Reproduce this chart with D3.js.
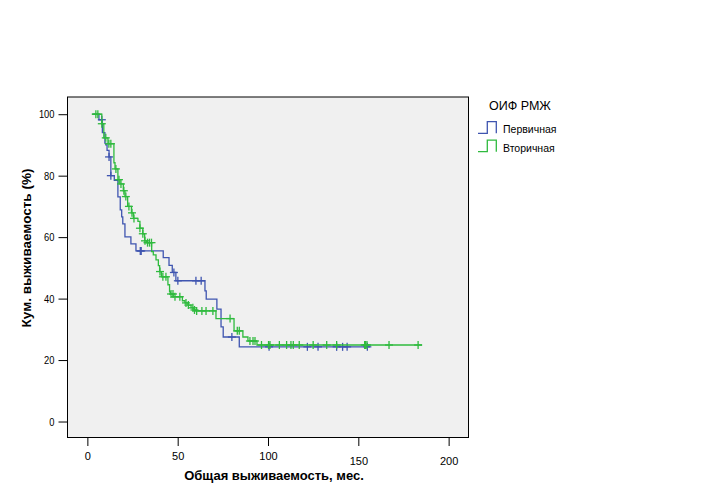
<!DOCTYPE html>
<html><head><meta charset="utf-8">
<script src="https://cdn.jsdelivr.net/npm/d3@7"></script>
<style>
html,body{margin:0;padding:0;background:#fff;}
text{font-family:Arial,"Liberation Sans",sans-serif;fill:#000;}
</style></head>
<body>
<svg id="chart" width="703" height="504"></svg>
<script>
// ---- data ----
const xTicks = [0, 50, 100, 150, 200];
const yTicks = [0, 20, 40, 60, 80, 100];
const groups = ["Первичная", "Вторичная"];
const legendTitle = "ОИФ РМЖ";
const xTitle = "Общая выживаемость, мес.";
const yTitle = "Кум. выживаемость (%)";

// Первичная: step start times and survival levels (last = end of follow-up)
const primTime = [3.0, 6.4, 8.3, 9.7, 10.2, 10.9, 12.0, 13.0, 14.9, 16.9, 18.2, 19.0, 19.6, 20.8, 24.1, 26.9, 42.0, 45.2, 47.0, 49.0, 65.1, 65.8, 71.7, 74.0, 75.2, 84.1, 156.5];
const primSurv = [100, 98.2, 94.0, 90.6, 90.0, 88.2, 86.1, 80.0, 78.5, 73.1, 68.9, 66.6, 64.3, 60.1, 57.8, 55.5, 53.3, 50.8, 48.5, 45.8, 42.5, 39.8, 36.6, 30.8, 27.5, 24.3, 24.3];
const primCens = [8.0, 12.0, 13.0, 29.3, 29.8, 47.9, 50.1, 60.1, 63.0, 80.0, 100.6, 121.8, 127.7, 138.0, 141.3, 143.8, 155.0];

// Вторичная
const secTime = [2.5, 8.0, 9.1, 11.4, 14.7, 15.3, 16.9, 18.0, 19.9, 20.8, 22.3, 24.4, 25.5, 28.0, 29.1, 30.7, 31.7, 32.8, 35.6, 36.5, 38.0, 39.3, 40.0, 41.0, 44.6, 45.5, 46.0, 47.5, 52.6, 54.0, 55.7, 57.4, 59.0, 60.0, 71.2, 81.2, 86.1, 88.9, 93.9, 185.3];
const secSurv = [100, 96.9, 92.3, 90.4, 84.2, 82.2, 78.7, 77.3, 75.1, 73.2, 70.0, 67.9, 66.1, 65.1, 62.9, 61.1, 58.8, 58.2, 55.3, 54.2, 52.6, 50.7, 48.8, 47.1, 44.5, 42.2, 41.5, 40.6, 39.3, 38.6, 37.9, 37.0, 36.3, 36.0, 33.5, 29.5, 27.5, 26.2, 24.9, 24.9];
const secCens = [4.7, 5.8, 8.0, 10.2, 11.9, 13.0, 15.8, 17.5, 18.6, 20.2, 21.3, 23.0, 24.7, 25.8, 29.1, 30.7, 31.9, 33.3, 34.4, 35.5, 40.2, 41.8, 43.5, 46.3, 47.4, 48.5, 51.2, 54.6, 55.9, 58.4, 59.3, 60.5, 63.4, 65.7, 69.5, 79.0, 83.0, 84.1, 90.0, 91.7, 92.8, 96.4, 100.3, 101.1, 106.3, 110.3, 112.7, 114.0, 117.3, 125.0, 132.5, 138.0, 153.5, 154.0, 154.8, 167.0, 183.1];

const colors = ["#3f55b0", "#2fba3e"];

// ---- layout ----
const svg = d3.select("#chart");
const L = 67.5, R = 468.5, T = 97, B = 437.5;
const x = d3.scaleLinear().domain([-11, 211]).range([L, R]);
const y = d3.scaleLinear().domain([-5.2, 105.6]).range([B, T]);

svg.append("rect").attr("x", L).attr("y", T).attr("width", R - L).attr("height", B - T)
  .attr("fill", "#f0f0f0").attr("stroke", "#000").attr("stroke-width", 1);

// axes
const yAxis = svg.append("g").attr("transform", `translate(${L},0)`)
  .call(d3.axisLeft(y).tickValues(yTicks).tickSize(9).tickPadding(4).tickFormat(d3.format("d")));
yAxis.select(".domain").remove();
yAxis.selectAll("line").attr("stroke", "#000");
yAxis.selectAll("text").attr("font-size", 11).attr("font-family", "Arial, Liberation Sans")
  .each(function(){ const t = d3.select(this); const s = t.text(); t.attr("textLength", s.length * 5.2).attr("lengthAdjust", "spacingAndGlyphs"); });

const xAxis = svg.append("g").attr("transform", `translate(0,${B})`)
  .call(d3.axisBottom(x).tickValues(xTicks).tickSize(8.5).tickPadding(6).tickFormat(d3.format("d")));
xAxis.select(".domain").remove();
xAxis.selectAll("line").attr("stroke", "#000");
xAxis.selectAll("text").attr("font-size", 11).attr("font-family", "Arial, Liberation Sans")
  .attr("dy", d => d >= 150 ? "1.15em" : "0.71em");

// axis titles
svg.append("text").attr("x", 274).attr("y", 480).attr("text-anchor", "middle")
  .attr("font-size", 13).attr("font-weight", "bold").text(xTitle);
svg.append("text").attr("transform", "translate(31,248) rotate(-90)").attr("text-anchor", "middle")
  .attr("font-size", 13.5).attr("font-weight", "bold").text(yTitle);

// curves
function stepFn(times, surv) {
  return t => { let v = surv[0]; for (let i = 0; i < times.length; i++) { if (times[i] <= t) v = surv[i]; } return v; };
}
const line = d3.line().x(d => x(d[0])).y(d => y(d[1])).curve(d3.curveStepAfter);
const series = [
  {time: primTime, surv: primSurv, cens: primCens, color: colors[0]},
  {time: secTime, surv: secSurv, cens: secCens, color: colors[1]}
];
series.forEach(s => {
  const pts = s.time.map((t, i) => [t, s.surv[i]]);
  svg.append("path").attr("d", line(pts)).attr("fill", "none")
    .attr("stroke", s.color).attr("stroke-width", 1.3);
  const f = stepFn(s.time, s.surv);
  const g = svg.append("g").attr("stroke", s.color).attr("stroke-width", 1.3);
  s.cens.forEach(c => {
    const cx = x(c), cy = y(f(c));
    g.append("line").attr("x1", cx).attr("x2", cx).attr("y1", cy - 4).attr("y2", cy + 4);
    g.append("line").attr("x1", cx - 4).attr("x2", cx + 4).attr("y1", cy).attr("y2", cy);
  });
});

// legend
svg.append("text").attr("x", 489).attr("y", 110).attr("font-size", 12.5).text(legendTitle);
groups.forEach((gname, i) => {
  const by = 133.3 + i * 18.4, ty = by - 11.6;
  svg.append("path").attr("d", `M478,${by}H487.3V${ty}H496.3V${by}`)
    .attr("fill", "none").attr("stroke", colors[i]).attr("stroke-width", 1.3);
  svg.append("text").attr("x", 503).attr("y", by).attr("font-size", 10.5).text(gname);
});
</script>
</body></html>
